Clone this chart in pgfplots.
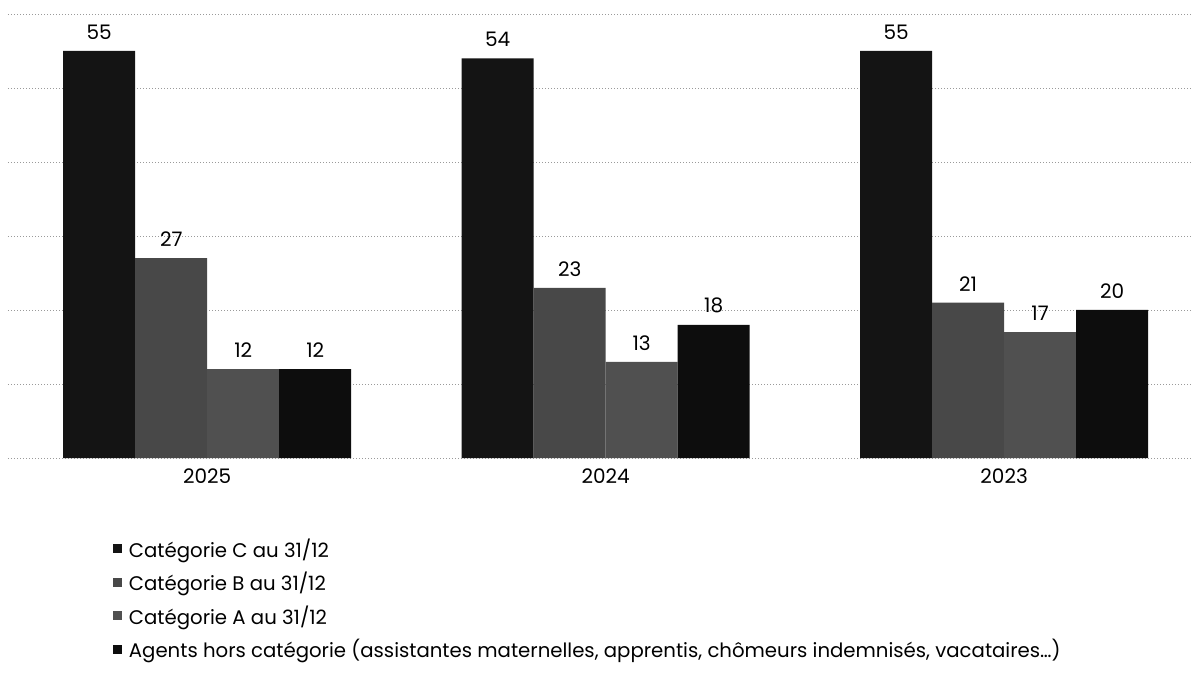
\documentclass[border=0pt]{standalone}
\usepackage{fontspec}
\setmainfont{Poppins}
\usepackage{pgfplots}
\pgfplotsset{compat=1.18}
\definecolor{catC}{HTML}{141414}
\definecolor{catB}{HTML}{484848}
\definecolor{catA}{HTML}{505050}
\definecolor{catH}{HTML}{0D0D0D}
\definecolor{gridc}{HTML}{9A9A9A}
\begin{document}
\begin{tikzpicture}[x=1pt,y=1pt]
\useasboundingbox (0,0) rectangle (1193,680);
\begin{axis}[
  at={(8pt,222pt)}, anchor=south west,
  scale only axis, width=1183pt, height=444pt,
  ymin=0, ymax=60, xmin=-0.5, xmax=2.469,
  ybar=0pt, bar width=0.1807,
  ytick={0,10,...,60}, yticklabels={},
  ymajorgrids, major grid style={gridc, line width=0.6pt, dash pattern=on 1pt off 2pt},
  axis line style={draw=none}, tick style={draw=none},
  xtick={0,1,2}, xticklabels={2025,2024,2023},
  x tick label style={font=\fontsize{20}{24}\selectfont, yshift=-3pt},
  /pgf/number format/assume math mode=true,
  nodes near coords,
  every node near coord/.append style={font=\fontsize{20}{24}\selectfont, black, yshift=8pt},
  legend style={at={(0.086,-0.172)}, anchor=north west, draw=none, fill=none,
    font=\fontsize{19.7}{23}\selectfont, row sep=9.5pt,
    /tikz/every odd column/.append style={column sep=5pt}},
  legend cell align=left,
  legend image code/.code={\fill[#1,draw=none] (0pt,-4.5pt) rectangle (9pt,4.5pt);},
]
\addplot[fill=catC, draw=none] coordinates {(0,55) (1,54) (2,55)};
\addplot[fill=catB, draw=none] coordinates {(0,27) (1,23) (2,21)};
\addplot[fill=catA, draw=none] coordinates {(0,12) (1,13) (2,17)};
\addplot[fill=catH, draw=none] coordinates {(0,12) (1,18) (2,20)};
\legend{Catégorie C au 31/12, Catégorie B au 31/12, Catégorie A au 31/12, Agents hors catégorie (assistantes maternelles{,} apprentis{,} chômeurs indemnisés{,} vacataires…)}
\end{axis}
\end{tikzpicture}
\end{document}
